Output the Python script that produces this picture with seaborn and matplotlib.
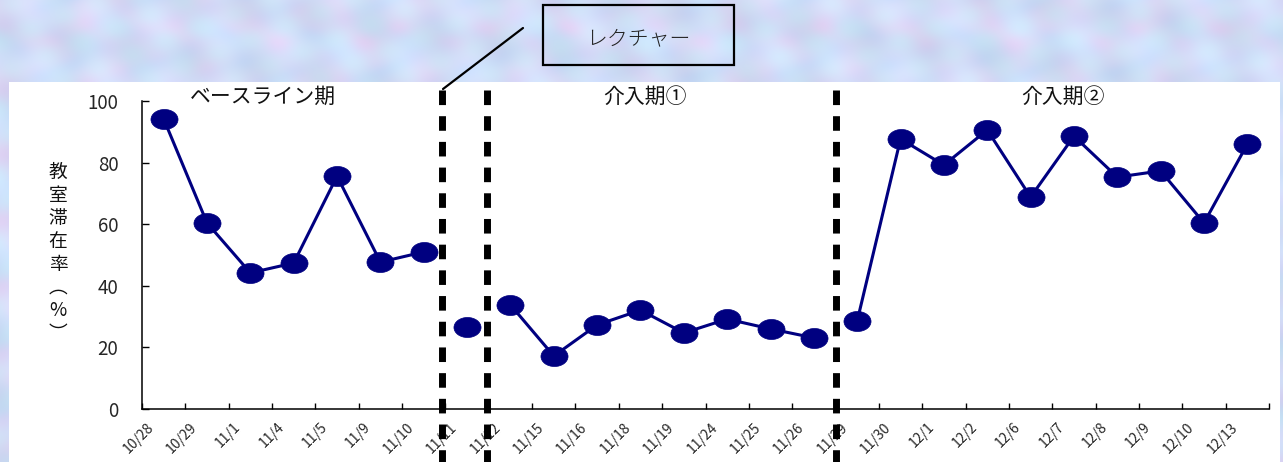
import numpy as np
import pandas as pd
import matplotlib
matplotlib.use("Agg")
import matplotlib.pyplot as plt
import seaborn as sns
from matplotlib.path import Path
from matplotlib.patches import Rectangle
from matplotlib.lines import Line2D
from matplotlib.transforms import ScaledTranslation

# ---- data -------------------------------------------------------------
dates = ["10/28", "10/29", "11/1", "11/4", "11/5", "11/9", "11/10",
         "11/11",
         "11/12", "11/15", "11/16", "11/18", "11/19", "11/24", "11/25", "11/26",
         "11/29", "11/30", "12/1", "12/2", "12/6", "12/7", "12/8", "12/9",
         "12/10", "12/13"]
stay_rate = [94.2, 60.4, 44.2, 47.4, 75.6, 47.7, 51.0,
             26.6,
             33.8, 17.2, 27.3, 32.1, 24.7, 29.2, 26.0, 23.1,
             28.6, 87.7, 79.2, 90.6, 68.8, 88.6, 75.3, 77.3, 60.4, 86.0]
phase = (["baseline"] * 7 + ["lecture"] * 1 + ["intervention1"] * 8
         + ["intervention2"] * 10)
phase_labels = ["ベースライン期", "介入期①", "介入期②"]
phase_label_x = [2.3, 11.1, 20.75]
divider_x = [6.41, 7.46, 15.51]
yticks = [0, 20, 40, 60, 80, 100]
ylabel = "教室滞在率︵%︶"
callout = "レクチャー"

df = pd.DataFrame({"pos": np.arange(len(dates)), "rate": stay_rate,
                   "phase": phase})

W, H, DPI = 1283, 462, 100
NAVY = "#000080"

sns.set_theme(style="white")
plt.rcParams["font.family"] = ["Noto Sans CJK JP", "DejaVu Sans"]

fig = plt.figure(figsize=(W / DPI, H / DPI), dpi=DPI)

# pastel mottled backdrop
yy, xx = np.mgrid[0:H, 0:W].astype(float)
m1 = (np.sin(xx / 13.0 + np.sin(yy / 11.0) * 2.1) + np.sin(yy / 12.0 + np.cos(xx / 17.0) * 1.7)) / 2
m2 = (np.sin(xx / 9.0 + yy / 21.0) * np.cos(yy / 7.0 - xx / 29.0))
m3 = np.sin((xx + yy) / 23.0) * np.sin((xx - yy) / 17.0)
blue = np.array([200, 218, 248])
lav = np.array([224, 210, 244])
cyan = np.array([202, 234, 248])
w1 = (m1 * 0.5 + 0.5)[..., None]
w2 = (m2 * 0.5 + 0.5)[..., None] * 0.6
img = blue * (1 - w1) + lav * w1
img = img * (1 - w2) + cyan * w2
img = img + (m3[..., None] * 7)
img = np.clip(img, 0, 255) / 255.0
fig.figimage(img, xo=0, yo=0, origin="upper", zorder=-10)

# white chart panel
fig.add_artist(Rectangle((9 / W, 0), 1271 / W, 380 / H, transform=fig.transFigure,
                         facecolor="white", edgecolor="none", zorder=-5))

ax = fig.add_axes([142 / W, 53 / H, (1269 - 142) / W, (409 - 101) / H])
ax.set_facecolor("none")

# elliptical marker
circ = Path.unit_circle()
ellipse = Path(circ.vertices * np.array([1.35, 1.0]), circ.codes)

sns.lineplot(data=df, x="pos", y="rate", units="phase", estimator=None,
             sort=False, color=NAVY, lw=2.2, marker=ellipse, markersize=19.5,
             markeredgecolor=NAVY, markerfacecolor=NAVY, markeredgewidth=0.5,
             legend=False, ax=ax, zorder=3)

ax.set_xlim(-0.5, len(dates) - 0.5)
ax.set_ylim(0, 100)
ax.set_xlabel("")
ax.set_ylabel("")

for s in ["top", "right"]:
    ax.spines[s].set_visible(False)
for s in ["left", "bottom"]:
    ax.spines[s].set_color("black")
    ax.spines[s].set_linewidth(1.1)

ax.set_yticks(yticks)
ax.set_yticklabels([str(v) for v in yticks], fontsize=13.5)
ax.tick_params(axis="y", direction="in", length=5, width=1, color="black",
               pad=17, left=True)

ax.set_xticks(np.arange(len(dates) + 1) - 0.5)
ax.set_xticklabels([])
ax.tick_params(axis="x", which="major", direction="in", length=4, width=1,
               color="black", bottom=True)
ax.set_xticks(np.arange(len(dates)), minor=True)
ax.set_xticklabels(dates, minor=True, fontsize=10, rotation=45,
                   ha="right", va="top", rotation_mode="anchor")
ax.tick_params(axis="x", which="minor", length=0, pad=8)
shift = ScaledTranslation(-17 / DPI, 0, fig.dpi_scale_trans)
for lab in ax.get_xticklabels(minor=True):
    lab.set_transform(lab.get_transform() + shift)
ax.grid(False)

# phase dividers
for xv in divider_x:
    ax.axvline(xv, ymin=1.036, ymax=-0.175, color="black", lw=5,
               dashes=(2.1, 1.6), clip_on=False, zorder=2,
               solid_capstyle="butt", dash_capstyle="butt")

# phase names
for lbl, xv in zip(phase_labels, phase_label_x):
    ax.text(xv, 1.013, lbl, transform=ax.get_xaxis_transform(), ha="center",
            va="center", fontsize=15, color="#111111")

# vertical axis title
fig.text(58 / W, 1 - 253 / H, "\n".join(ylabel), ha="center", va="center",
         fontsize=13.5, linespacing=1.12, color="#111111")

# lecture callout
fig.add_artist(Rectangle((543 / W, 1 - 65 / H), 191 / W, 60 / H,
                         transform=fig.transFigure, facecolor="none",
                         edgecolor="black", lw=1.6))
fig.text(638 / W, 1 - 38 / H, callout, ha="center", va="center",
         fontsize=15, color="#222222", fontweight="light")
fig.add_artist(Line2D([443 / W, 523 / W], [1 - 89 / H, 1 - 28 / H],
                      transform=fig.transFigure, color="black", lw=1.6))

fig.savefig("out.png", dpi=DPI)
